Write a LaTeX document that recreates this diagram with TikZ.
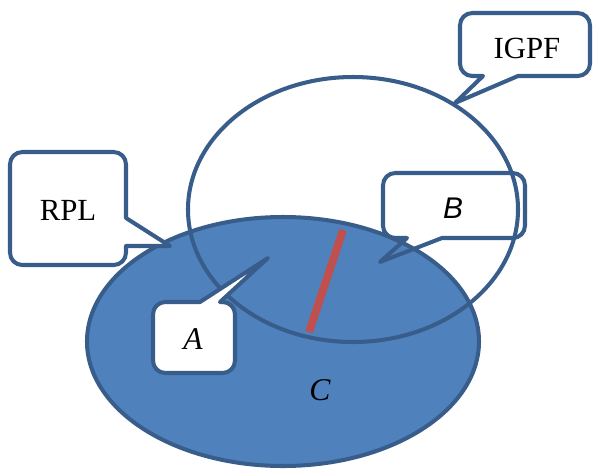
\documentclass[tikz,border=0pt]{standalone}
\usepackage{fontspec}
\setmainfont{Liberation Serif}
\newfontfamily\sansfont{Liberation Sans}
\usetikzlibrary{calc}

\definecolor{setfill}{HTML}{4F81BD}
\definecolor{setedge}{HTML}{385D8A}
\definecolor{cutred}{HTML}{C0504D}

\begin{document}
\begin{tikzpicture}[x=0.02cm, y=-0.02cm,
    outline/.style={draw=setedge, line width=2.3pt},
    bubble/.style={outline, line join=round},
    lbl/.style={inner sep=0, font=\fontsize{17.5}{20}\selectfont},
    var/.style={inner sep=0, font=\fontsize{18}{20}\selectfont\itshape}]
    \useasboundingbox (0,0) rectangle (600,468);

    % sets
    \filldraw[outline, fill=setfill] (283,341.5) ellipse [x radius=196, y radius=124.5];
    \draw[outline] (353,209.5) ellipse [x radius=165, y radius=132.5];

    % cut
    \coordinate (cuttop) at (343,230);
    \coordinate (cutbot) at (309,332);
    \draw[cutred, line width=4.5pt] (cuttop) -- (cutbot);

    \coordinate (igpftip) at (455,103);
    \coordinate (rpltip) at (170,246);
    \coordinate (btip) at (380,262);
    \coordinate (atip) at (268,258);

    % IGPF
    \draw[bubble, fill=white] (460,45) [rounded corners=7pt] -- (460,13) -- (590,13) -- (590,76) [sharp corners] -- (518,76) -- (igpftip) -- (483,76) [rounded corners=7pt] -- (460,76) -- cycle;
    \node[lbl] (igpf) at (527,48) {IGPF};

    % RPL
    \draw[bubble, fill=white] (10,210) [rounded corners=7pt] -- (10,152) -- (126,152) [sharp corners] -- (126,218) -- (rpltip) -- (126,246) [rounded corners=7pt] -- (126,265) -- (10,265) -- cycle;
    \node[lbl] (rpl) at (68,210) {RPL};

    % B
    \draw[bubble] (383,205) [rounded corners=7pt] -- (383,173) -- (525,173) -- (525,238) [sharp corners] -- (442,238) -- (btip) -- (407,238) [rounded corners=7pt] -- (383,238) -- cycle;
    \node[inner sep=0, font=\fontsize{17}{20}\selectfont\sansfont\itshape] (b) at (453,208) {B};

    % A
    \draw[bubble, fill=white] (153,338) [rounded corners=7pt] -- (153,302) [sharp corners] -- (200,302) -- (atip) -- (220,302) [rounded corners=7pt] -- (235,302) -- (235,373) -- (153,373) -- cycle;
    \node[var] (a) at (193,339) {A};

    \node[var] (c) at (320,390) {C};
\end{tikzpicture}
\end{document}
